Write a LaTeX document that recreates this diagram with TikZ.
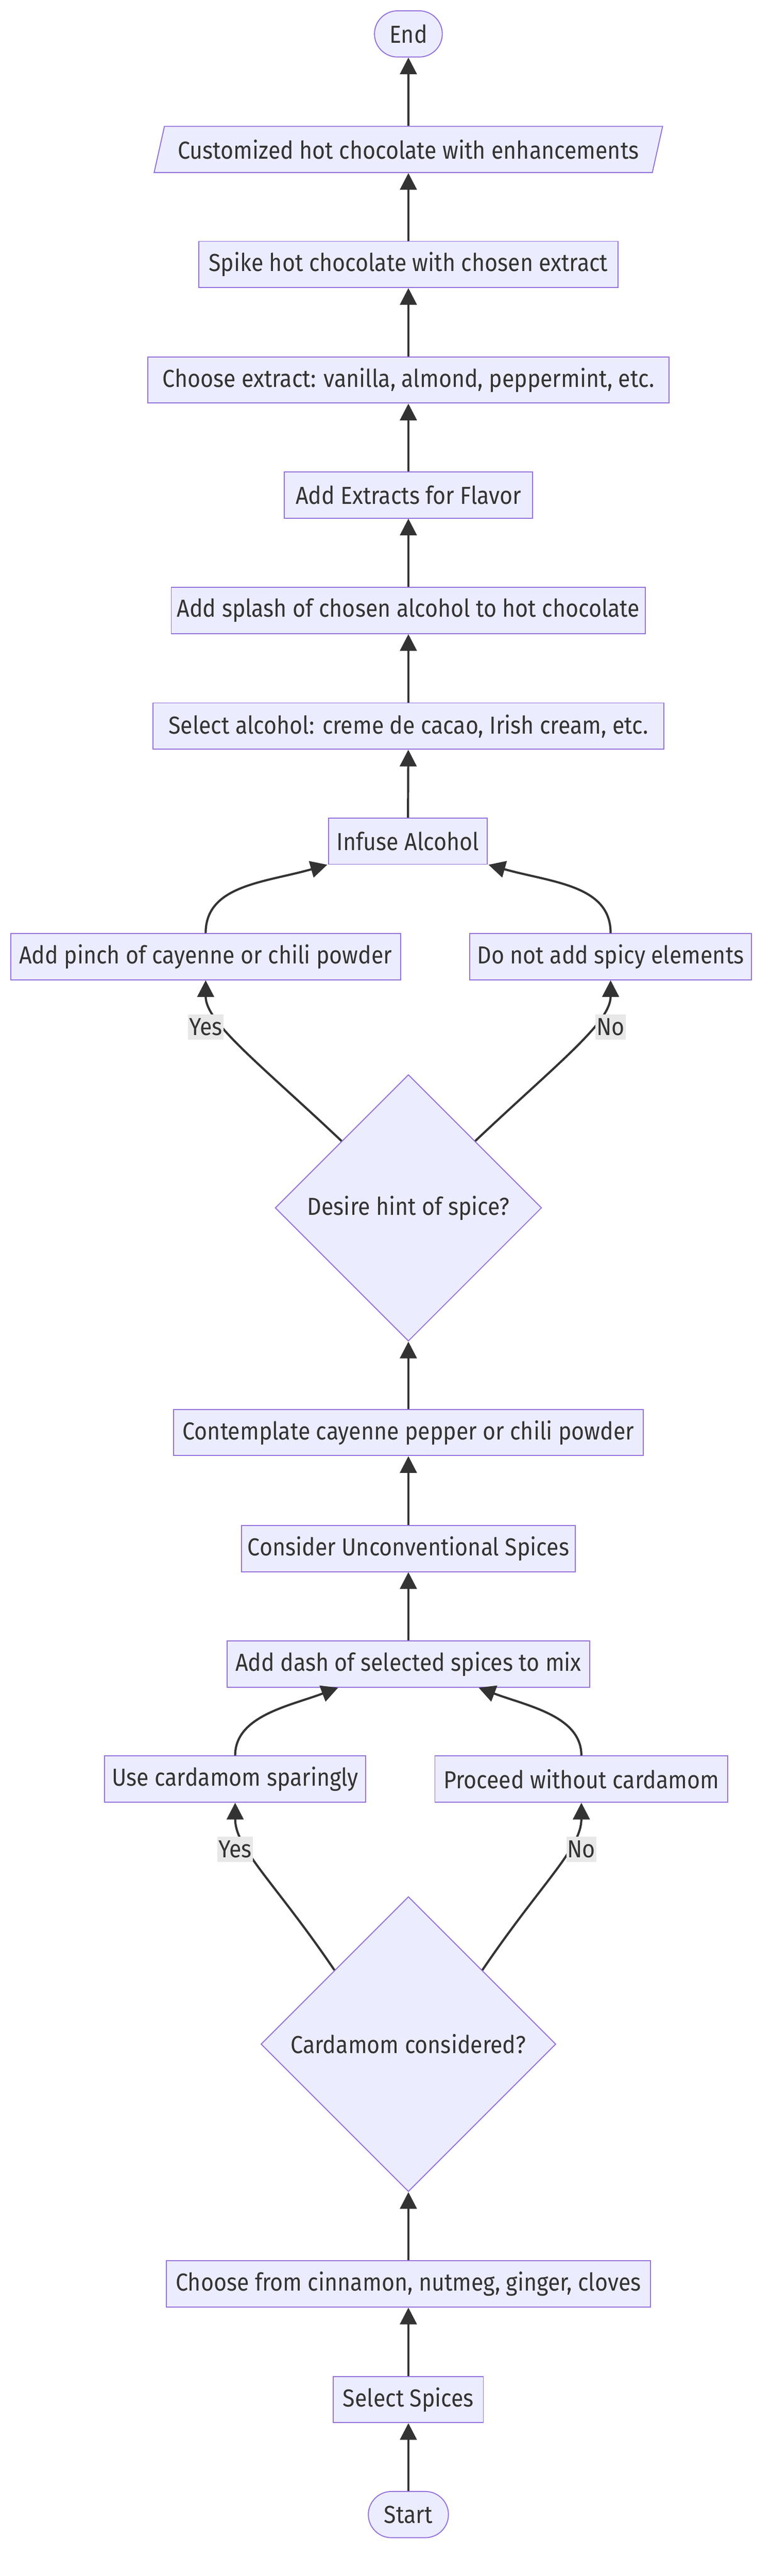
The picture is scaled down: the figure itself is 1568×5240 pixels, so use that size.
\documentclass[tikz,border=0pt]{standalone}
\usepackage{fontspec}
\setmainfont{Fira Sans}[FakeStretch=0.9]
\usetikzlibrary{arrows.meta,shapes.geometric,calc}
\definecolor{nodefill}{HTML}{ECECFF}
\definecolor{nodeline}{HTML}{9370DB}
\definecolor{txt}{HTML}{333333}
\definecolor{edgec}{HTML}{333333}
\definecolor{lblbg}{HTML}{E8E8E8}
\newcommand{\diagfont}{\fontsize{25}{30}\selectfont}
\tikzset{
  box/.style={draw=nodeline, fill=nodefill, line width=1pt, minimum height=47pt,
    inner sep=0pt, text=txt, font=\diagfont},
  term/.style={box, rounded corners=23.5pt},
  para/.style={box, trapezium, trapezium left angle=63.4, trapezium right angle=116.6,
    trapezium stretches=true},
  decision/.style={box, diamond, aspect=1},
  flow/.style={draw=edgec, line width=2.2pt, -{Triangle[length=17pt,width=17pt]}},
  lbl/.style={fill=lblbg, text=txt, inner xsep=1pt, inner ysep=0pt,
    minimum height=25.5pt, font=\diagfont}
}
\begin{document}
\begin{tikzpicture}[x=0.5pt,y=-0.5pt]
\useasboundingbox (0,0) rectangle (1568,5240);
% nodes
\node[term, minimum width=69pt] (endn) at (831,69) {End};
\node[para, minimum width=517.5pt] (cust) at (831,304) {Customized hot chocolate with enhancements};
\node[box, minimum width=426.5pt] (spike) at (831,538) {Spike hot chocolate with chosen extract};
\node[box, minimum width=530.5pt] (chext) at (831,773) {Choose extract: vanilla, almond, peppermint, etc.};
\node[box, minimum width=252.5pt] (addext) at (831,1007) {Add Extracts for Flavor};
\node[box, minimum width=482.5pt] (splash) at (831,1242) {Add splash of chosen alcohol to hot chocolate};
\node[box, minimum width=519.5pt] (selalc) at (831,1477) {Select alcohol: creme de cacao, Irish cream, etc.};
\node[box, minimum width=161pt] (infuse) at (830,1711) {Infuse Alcohol};
\node[box, minimum width=396.5pt] (pinch) at (418.5,1946) {Add pinch of cayenne or chili powder};
\node[box, minimum width=286.5pt] (nospicy) at (1242.5,1946) {Do not add spicy elements};
\node[decision, minimum width=271pt, minimum height=271pt] (spice) at (831,2457) {Desire hint of spice?};
\node[box, minimum width=477.5pt] (contemp) at (831,2914) {Contemplate cayenne pepper or chili powder};
\node[box, minimum width=339.5pt] (unconv) at (831,3150) {Consider Unconventional Spices};
\node[box, minimum width=369pt] (dash) at (831,3385) {Add dash of selected spices to mix};
\node[box, minimum width=265.5pt] (usecard) at (478.5,3619) {Use cardamom sparingly};
\node[box, minimum width=298pt] (nocard) at (1183,3619) {Proceed without cardamom};
\node[decision, minimum width=300pt, minimum height=300pt] (card) at (831,4158) {Cardamom considered?};
\node[box, minimum width=492.5pt] (choosefrom) at (831,4646) {Choose from cinnamon, nutmeg, ginger, cloves};
\node[box, minimum width=152.5pt] (selsp) at (831,4881) {Select Spices};
\node[term, minimum width=81.5pt] (startn) at (831,5115) {Start};
% straight edges
\draw[flow] (startn) -- (selsp);
\draw[flow] (selsp) -- (choosefrom);
\draw[flow] (choosefrom) -- (card);
\draw[flow] (dash) -- (unconv);
\draw[flow] (unconv) -- (contemp);
\draw[flow] (contemp) -- (spice);
\draw[flow] (infuse) -- (selalc);
\draw[flow] (selalc) -- (splash);
\draw[flow] (splash) -- (addext);
\draw[flow] (addext) -- (chext);
\draw[flow] (chext) -- (spike);
\draw[flow] (spike) -- (cust);
\draw[flow] (cust) -- (endn);
% cardamom decision
\draw[flow] ($(card.north)!0.5!(card.west)$) .. controls (560,3830) and (478.5,3760) .. (usecard.south);
\draw[flow] ($(card.north)!0.5!(card.east)$) .. controls (1102,3830) and (1183,3760) .. (nocard.south);
\node[lbl] (yes2) at (478.5,3762) {Yes};
\node[lbl] (no2) at (1183,3762) {No};
\draw[flow] (usecard.north) .. controls (478.5,3490) and (590,3470) .. ($(dash.south)+(-143,0)$);
\draw[flow] (nocard.north) .. controls (1183,3490) and (1072,3470) .. ($(dash.south)+(143,0)$);
% spice decision
\draw[flow] ($(spice.north)!0.5!(spice.west)$) .. controls (530,2165) and (418.5,2080) .. (pinch.south);
\draw[flow] ($(spice.north)!0.5!(spice.east)$) .. controls (1132,2165) and (1242.5,2080) .. (nospicy.south);
\node[lbl] (yes1) at (418.5,2089) {Yes};
\node[lbl] (no1) at (1242.5,2089) {No};
\draw[flow] (pinch.north) .. controls (418.5,1800) and (540,1795) .. ($(infuse.south west)+(-2,0)$);
\draw[flow] (nospicy.north) .. controls (1242.5,1800) and (1122,1795) .. ($(infuse.south east)+(2,0)$);
\end{tikzpicture}
\end{document}
